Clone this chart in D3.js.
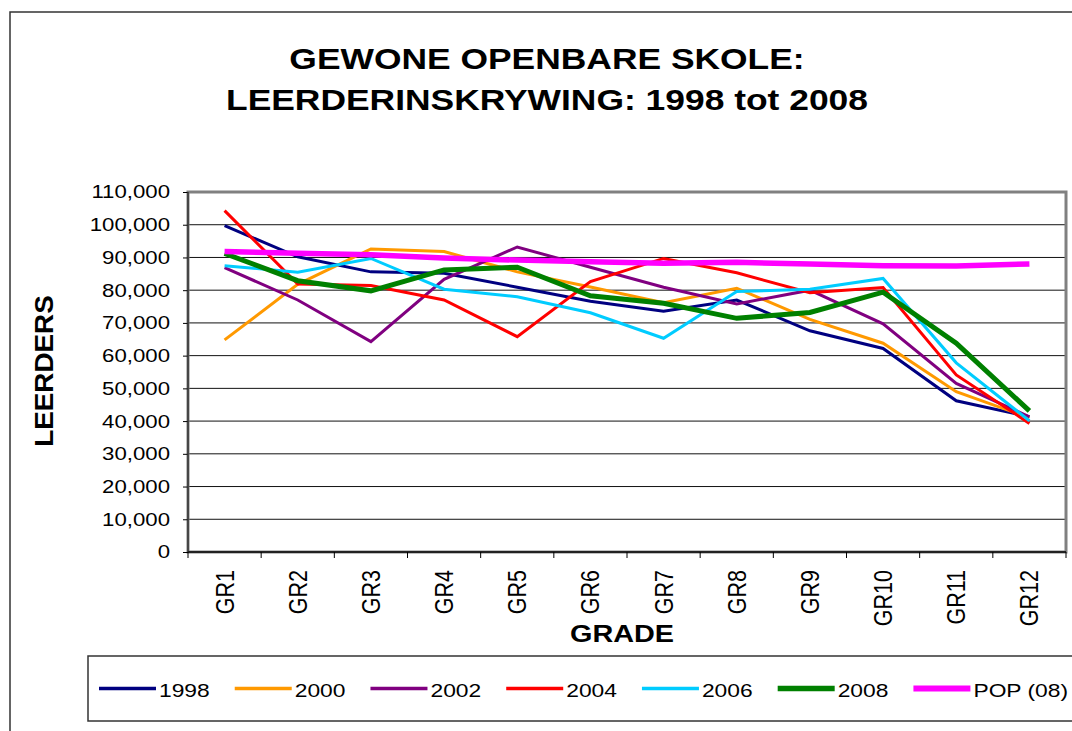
<!DOCTYPE html>
<html>
<head>
<meta charset="utf-8">
<script src="https://cdn.jsdelivr.net/npm/d3@7"></script>
<style>
  body { margin: 0; background: #fff; }
  text { font-family: "Liberation Sans", Arial, sans-serif; fill: #000; }
</style>
</head>
<body>
<div id="chart"></div>
<script>
// data
var grades = ["GR1", "GR2", "GR3", "GR4", "GR5", "GR6", "GR7", "GR8", "GR9", "GR10", "GR11", "GR12"];
var yTicks = [0, 10000, 20000, 30000, 40000, 50000, 60000, 70000, 80000, 90000, 100000, 110000];

var y1998 = [99700, 90200, 85600, 85200, 80900, 76600, 73600, 77000, 67600, 62200, 46200, 41300];
var y2000 = [64800, 81800, 92600, 91800, 85600, 81000, 76200, 80600, 71100, 63800, 49000, 41000];
var y2002 = [86900, 77000, 64300, 83300, 93200, 87000, 80900, 75800, 80000, 69700, 51500, 41300];
var y2004 = [104300, 81900, 81400, 77000, 65800, 82600, 89700, 85300, 79200, 80800, 54100, 39300];
var y2006 = [87500, 85500, 89700, 80300, 78000, 73100, 65300, 79600, 80300, 83600, 57800, 40100];
var y2008 = [91200, 82900, 79800, 86200, 87000, 78300, 76000, 71400, 73200, 79400, 63800, 43100];
var pop08 = [91800, 91300, 90800, 89800, 89200, 88700, 88200, 88500, 88000, 87500, 87400, 88000];

var seriesNames = ["1998", "2000", "2002", "2004", "2006", "2008", "POP (08)"];
var seriesValues = [y1998, y2000, y2002, y2004, y2006, y2008, pop08];
var seriesColors = ["#000080", "#FF9900", "#800080", "#FF0000", "#00CCFF", "#008000", "#FF00FF"];
var seriesWidths = [3, 3, 3, 3, 3, 5, 5.5];

var svgWidth = 1072;
var svgHeight = 731;
var plot = { left: 188, right: 1066, top: 192, bottom: 552 };
var stretch = 1.2; // text in the picture is drawn wider than normal

var svg = d3.select("#chart")
    .append("svg")
    .attr("width", svgWidth)
    .attr("height", svgHeight);

function widen(sel, factor) {
    sel.each(function() {
        var w = this.getComputedTextLength();
        d3.select(this)
            .attr("textLength", w * factor)
            .attr("lengthAdjust", "spacingAndGlyphs");
    });
}

// outer chart border
svg.append("rect")
    .attr("x", 10).attr("y", 12)
    .attr("width", 1090).attr("height", 750)
    .attr("fill", "none")
    .attr("stroke", "#333")
    .attr("stroke-width", 1.5);

// title
var title = svg.append("g");
title.append("text")
    .attr("x", 547).attr("y", 68.5)
    .attr("text-anchor", "middle")
    .style("font-size", "29.5px")
    .style("font-weight", "bold")
    .text("GEWONE OPENBARE SKOLE:");
title.append("text")
    .attr("x", 547).attr("y", 110)
    .attr("text-anchor", "middle")
    .style("font-size", "29.5px")
    .style("font-weight", "bold")
    .text("LEERDERINSKRYWING: 1998 tot 2008");
widen(title.selectAll("text"), stretch);

var x = d3.scaleBand()
    .domain(grades)
    .range([plot.left, plot.right]);

var y = d3.scaleLinear()
    .domain([0, 110000])
    .range([plot.bottom, plot.top]);

// gridlines
svg.append("g")
    .selectAll("line")
    .data(yTicks.slice(1, -1))
    .enter()
    .append("line")
    .attr("x1", plot.left)
    .attr("x2", plot.right)
    .attr("y1", d => y(d))
    .attr("y2", d => y(d))
    .attr("stroke", "#111")
    .attr("stroke-width", 1);

// plot frame
svg.append("rect")
    .attr("x", plot.left)
    .attr("y", plot.top)
    .attr("width", plot.right - plot.left)
    .attr("height", plot.bottom - plot.top)
    .attr("fill", "none")
    .attr("stroke", "#808080")
    .attr("stroke-width", 3);

// y axis
var leftAxis = d3.axisLeft(y)
    .tickValues(yTicks)
    .tickFormat(d3.format(","))
    .tickSize(5)
    .tickPadding(13);

var yAxisG = svg.append("g")
    .attr("transform", `translate(${plot.left}, 0)`)
    .call(leftAxis);
yAxisG.select(".domain").remove();
yAxisG.selectAll("text")
    .style("font-size", "18.5px")
    .style("font-family", "'Liberation Sans', Arial, sans-serif")
    .attr("fill", "#000");
yAxisG.selectAll("line").attr("stroke", "#000");
widen(yAxisG.selectAll("text"), stretch);

svg.append("line")
    .attr("x1", plot.left).attr("x2", plot.left)
    .attr("y1", plot.top).attr("y2", plot.bottom)
    .attr("stroke", "#333").attr("stroke-width", 1.5);

// x axis
svg.append("line")
    .attr("x1", plot.left).attr("x2", plot.right)
    .attr("y1", plot.bottom).attr("y2", plot.bottom)
    .attr("stroke", "#222").attr("stroke-width", 2);

svg.append("g")
    .selectAll("line")
    .data(grades.concat(["end"]))
    .enter()
    .append("line")
    .attr("x1", d => d === "end" ? plot.right : x(d))
    .attr("x2", d => d === "end" ? plot.right : x(d))
    .attr("y1", plot.bottom)
    .attr("y2", plot.bottom + 6)
    .attr("stroke", "#000");

svg.append("g")
    .selectAll("text")
    .data(grades)
    .enter()
    .append("text")
    .attr("transform", d => `translate(${x(d) + x.bandwidth() / 2}, 570) rotate(-90) scale(1, ${stretch})`)
    .attr("text-anchor", "end")
    .attr("dy", "0.35em")
    .style("font-size", "21.5px")
    .text(d => d);

// axis titles
var xTitle = svg.append("text")
    .attr("x", 622).attr("y", 642)
    .attr("text-anchor", "middle")
    .style("font-size", "24px")
    .style("font-weight", "bold")
    .text("GRADE");
widen(xTitle, stretch);

var yTitle = svg.append("text")
    .attr("transform", "translate(53, 371) rotate(-90)")
    .attr("text-anchor", "middle")
    .style("font-size", "26px")
    .style("font-weight", "bold")
    .text("LEERDERS");
widen(yTitle, 1.07);

// lines
var line = d3.line()
    .x((d, i) => x(grades[i]) + x.bandwidth() / 2)
    .y(d => y(d));

svg.append("g")
    .selectAll("path")
    .data(seriesValues)
    .enter()
    .append("path")
    .attr("d", d => line(d))
    .attr("fill", "none")
    .attr("stroke", (d, i) => seriesColors[i])
    .attr("stroke-width", (d, i) => seriesWidths[i])
    .attr("stroke-linejoin", "miter");

// legend
svg.append("rect")
    .attr("x", 88).attr("y", 656)
    .attr("width", 1000).attr("height", 65)
    .attr("fill", "none")
    .attr("stroke", "#333")
    .attr("stroke-width", 1.5);

var legendX = 99;
seriesNames.forEach(function(name, i) {
    var item = svg.append("g");
    item.append("line")
        .attr("x1", legendX).attr("x2", legendX + 57)
        .attr("y1", 688.5).attr("y2", 688.5)
        .attr("stroke", seriesColors[i])
        .attr("stroke-width", seriesWidths[i] + 0.5);
    var t = item.append("text")
        .attr("x", legendX + 60)
        .attr("y", 696.5)
        .style("font-size", "19px")
        .text(name);
    var w = t.node().getComputedTextLength() * stretch;
    widen(t, stretch);
    legendX += 60 + w + 25;
});
</script>
</body>
</html>
